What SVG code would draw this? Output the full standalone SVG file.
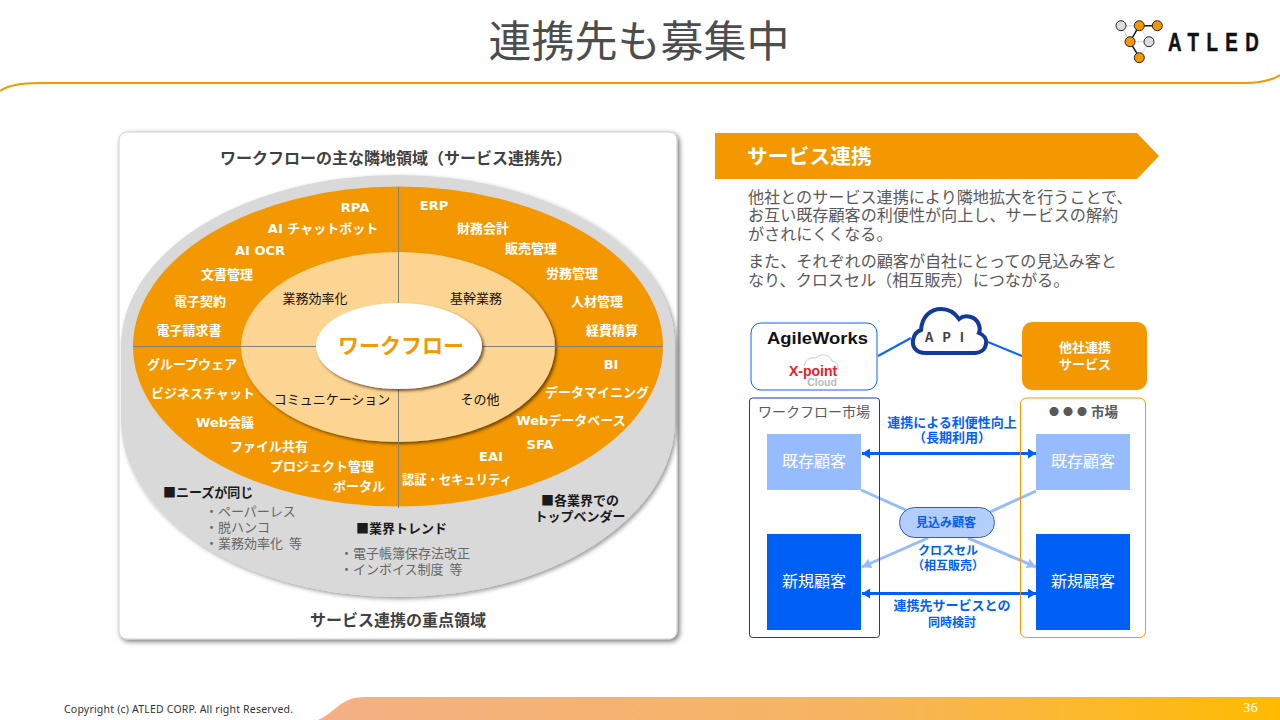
<svg xmlns="http://www.w3.org/2000/svg" width="1280" height="720" viewBox="0 0 1280 720">
<style>
text{font-family:"Noto Sans CJK JP","Noto Sans",sans-serif;dominant-baseline:central}
.c{text-anchor:middle}
.w{font-family:"DejaVu Sans","Noto Sans CJK JP",sans-serif;font-size:13px;font-weight:700;fill:#fff;text-anchor:middle}
.i{font-size:13px;fill:#111;text-anchor:middle}
.h{font-size:16px;font-weight:700;fill:#404040;text-anchor:middle}
.k{font-size:13px;font-weight:700;fill:#1a1a1a}
.g{font-size:13px;fill:#666}
.p{font-size:16.100px;fill:#595959}
.b{font-size:13px;font-weight:700;fill:#0060f5;text-anchor:middle}
.cust{font-size:16px;fill:#fff;text-anchor:middle}
.lk{stroke:#e3e3e3;stroke-width:1.500}
.ld{stroke:#1a1a1a;stroke-width:1.500}
.on{fill:#f39800;stroke:#222;stroke-width:1}
.off{fill:#dcdcdc;stroke:#222;stroke-width:1}
.ax{stroke:#7f7f7f;stroke-width:1;fill:none}
.big{stroke:#0060f5;stroke-width:3;fill:none;marker-start:url(#as);marker-end:url(#ae)}
.lt{stroke:#96bcff;stroke-width:3;fill:none}
</style>
<defs>
<linearGradient id="fg" x1="0" x2="1" y1="0" y2="0"><stop offset="0" stop-color="#f4b084"/><stop offset="0.55" stop-color="#f6b461"/><stop offset="1" stop-color="#ffbb00"/></linearGradient>
<filter id="card" x="-5%" y="-5%" width="110%" height="110%"><feDropShadow dx="2" dy="2" stdDeviation="2.500" flood-color="#000" flood-opacity="0.55"/></filter>
<filter id="sh1" x="-5%" y="-5%" width="110%" height="110%"><feDropShadow dx="2" dy="2" stdDeviation="2" flood-color="#000" flood-opacity="0.4"/></filter>
<filter id="sh2" x="-5%" y="-5%" width="110%" height="110%"><feDropShadow dx="2" dy="2" stdDeviation="1.500" flood-color="#4a2c00" flood-opacity="0.75"/></filter>
<marker id="ae" markerUnits="userSpaceOnUse" markerWidth="9" markerHeight="10" refX="8" refY="5" orient="auto"><path d="M0,0L8,5L0,10Z" fill="#0060f5"/></marker>
<marker id="as" markerUnits="userSpaceOnUse" markerWidth="9" markerHeight="10" refX="0" refY="5" orient="auto"><path d="M8,0L0,5L8,10Z" fill="#0060f5"/></marker>
<marker id="al" markerUnits="userSpaceOnUse" markerWidth="10" markerHeight="10" refX="9" refY="5" orient="auto"><path d="M0,0L9,5L0,10Z" fill="#96bcff"/></marker>
</defs>
<rect width="1280" height="720" fill="#fff"/>

<g id="header">
<path d="M0,91 C8,85 20,83 40,83 H1245 C1260,83 1272,80 1280,75" fill="none" stroke="#f39800" stroke-width="2"/>
<text class="c" x="639" y="38" font-size="43" fill="#4d4d4d">連携先も募集中</text>
</g>
<g id="logo">
<path class="lk" d="M1121,25.700H1139M1121,25.700L1130,41.700M1139.300,25.700L1149,41.700M1130,41.700H1149M1149,41.700L1139.300,57.700" fill="none"/>
<path class="ld" d="M1139.300,25.700H1157.300M1139.300,25.700L1130,41.700L1139.300,57.700" fill="none"/>
<circle class="off" cx="1121" cy="25.700" r="5"/><circle class="on" cx="1139.300" cy="25.700" r="5"/><circle class="on" cx="1157.300" cy="25.700" r="5"/>
<circle class="on" cx="1130" cy="41.700" r="5"/><circle class="off" cx="1149" cy="41.700" r="5"/><circle class="on" cx="1139.300" cy="57.700" r="5"/>
<text transform="translate(1168,43) scale(.75,1)" font-size="25" font-weight="700" fill="#111" letter-spacing="9.900" style="font-family:'Liberation Sans',sans-serif;stroke:#111;stroke-width:.5px">ATLED</text>
</g>

<g id="left-card">
<rect x="119" y="132" width="558" height="507" rx="8" fill="#fff" stroke="#d0d0d0" stroke-width="1" filter="url(#card)"/>
<text class="h" x="396" y="157">ワークフローの主な隣地領域（サービス連携先）</text>
<text class="h" x="398" y="619">サービス連携の重点領域</text>
</g>
<g id="rings">
<path d="M121,346 A277,171 0 0 1 675,346 V420 A277,177 0 0 1 121,420Z" fill="#d9d9d9" filter="url(#sh1)"/>
<ellipse cx="398" cy="346.500" rx="265" ry="160" fill="#f39800"/>
<ellipse cx="398" cy="347" rx="157" ry="95" fill="#fdd592" filter="url(#sh2)"/>
<path class="ax" d="M398.500,187V303M398.500,389V508M133,346.500H316M482,346.500H663"/>
<ellipse cx="399" cy="346" rx="83" ry="43" fill="#fff" filter="url(#sh2)"/>
</g>
<g id="node-workflow"><text class="c" x="401" y="344" font-size="21" font-weight="700" fill="#f39800">ワークフロー</text></g>
<g id="ring-labels">
<text class="w" x="355" y="207">RPA</text>
<text class="w" x="323" y="228">AI チャットボット</text>
<text class="w" x="260" y="250">AI OCR</text>
<text class="w" x="227" y="274">文書管理</text>
<text class="w" x="200" y="301">電子契約</text>
<text class="w" x="189" y="330">電子請求書</text>
<text class="w" x="192" y="364">グループウェア</text>
<text class="w" x="203" y="393">ビジネスチャット</text>
<text class="w" x="225" y="422">Web会議</text>
<text class="w" x="269" y="446">ファイル共有</text>
<text class="w" x="322" y="466">プロジェクト管理</text>
<text class="w" x="359" y="486">ポータル</text>
<text class="w" x="434" y="205">ERP</text>
<text class="w" x="483" y="228">財務会計</text>
<text class="w" x="531" y="248">販売管理</text>
<text class="w" x="572" y="273">労務管理</text>
<text class="w" x="597" y="301">人材管理</text>
<text class="w" x="612" y="330">経費精算</text>
<text class="w" x="611" y="364">BI</text>
<text class="w" x="597" y="392">データマイニング</text>
<text class="w" x="571" y="420">Webデータベース</text>
<text class="w" x="540" y="444">SFA</text>
<text class="w" x="491" y="456">EAI</text>
<text class="w" x="457" y="479" textLength="110" lengthAdjust="spacingAndGlyphs">認証・セキュリティ</text>
<text class="i" x="315" y="297">業務効率化</text>
<text class="i" x="476" y="297">基幹業務</text>
<text class="i" x="332" y="398">コミュニケーション</text>
<text class="i" x="480" y="398">その他</text>
</g>
<g id="ring-notes">
<text class="k" x="163" y="491">■ニーズが同じ</text>
<text class="g" x="205" y="510">・ペーパーレス</text>
<text class="g" x="205" y="526">・脱ハンコ</text>
<text class="g" x="205" y="542">・業務効率化 <tspan dx="3">等</tspan></text>
<text class="k" x="356" y="527">■業界トレンド</text>
<text class="g" x="340" y="552">・電子帳簿保存法改正</text>
<text class="g" x="340" y="568">・インボイス制度 <tspan dx="3">等</tspan></text>
<text class="k c" x="580" y="499">■各業界での</text>
<text class="k c" x="580" y="515">トップベンダー</text>
</g>

<g id="banner">
<path d="M715,133H1137L1159,156L1137,179H715Z" fill="#f39800"/>
<text x="747" y="155" font-size="20.800" font-weight="700" fill="#fff">サービス連携</text>
</g>
<g id="description">
<text class="p" x="748" y="196">他社とのサービス連携により隣地拡大を行うことで、</text>
<text class="p" x="748" y="214">お互い既存顧客の利便性が向上し、サービスの解約</text>
<text class="p" x="748" y="233">がされにくくなる。</text>
<text class="p" x="748" y="260">また、それぞれの顧客が自社にとっての見込み客と</text>
<text class="p" x="748" y="279">なり、クロスセル（相互販売）につながる。</text>
</g>

<g id="connectors">
<path d="M878,356L911,338M988,342L1022,356" stroke="#0a64f5" stroke-width="2" fill="none"/>
<path class="big" d="M862,453.500H1036"/>
<path class="big" d="M862,593.500H1036"/>
<path class="lt" d="M861,490L906,510M1036,491L990,512"/>
<path class="lt" d="M928,538L862,567" marker-end="url(#al)"/>
<path class="lt" d="M968,538L1036,567" marker-end="url(#al)"/>
</g>
<g id="node-agileworks">
<rect x="751" y="323" width="126" height="67" rx="10" fill="#fff" stroke="#0a64f5" stroke-width="1"/>
<text x="767" y="338" font-size="17" font-weight="700" fill="#111" textLength="101" lengthAdjust="spacingAndGlyphs" style="font-family:'Liberation Sans',sans-serif">AgileWorks</text>
<path d="M804,366 C806,358 812,357 816,358 C820,353 830,354 832,361 C837,362 839,366 838,370" fill="none" stroke="#c8ccd0" stroke-width="1"/>
<text x="813" y="371" class="c" font-size="14" font-weight="700" fill="#e8202c" style="font-family:'Liberation Sans',sans-serif">X-point</text>
<text x="822" y="382" class="c" font-size="10.500" font-weight="700" fill="#b4bcc4" style="font-family:'Liberation Sans',sans-serif">Cloud</text>
</g>
<g id="node-api">
<path d="M926,353 C916,353 912,347 913,340 C914,334 918,331 921,330 C922,316 931,309 941,309 C949,309 955,313 959,319 C965,314 976,316 979,325 C980,328 980,331 979,333 C984,335 987,339 986,344 C985,350 980,353 975,353Z" fill="#fff" stroke="#123a9c" stroke-width="4"/>
<text class="c" x="946" y="336" font-size="13" font-weight="700" fill="#404040" letter-spacing="3">A P I</text>
</g>
<g id="node-partner">
<rect x="1022" y="322" width="125" height="68" rx="10" fill="#f39800"/>
<text class="c" x="1085" y="346" font-size="13" font-weight="700" fill="#fff">他社連携</text>
<text class="c" x="1085" y="363" font-size="13" font-weight="700" fill="#fff">サービス</text>
</g>
<g id="market-workflow">
<rect x="749.500" y="398" width="130" height="239.500" rx="3" fill="none" stroke="#0b3fa8" stroke-width="1"/>
<text class="c" x="814" y="411" font-size="14" fill="#595959">ワークフロー市場</text>
</g>
<g id="market-other">
<rect x="1020.500" y="398" width="125" height="239.500" rx="6" fill="none" stroke="#f39800" stroke-width="1"/>
<text x="1049" y="411" font-weight="700" fill="#595959"><tspan font-size="10" letter-spacing="4">●●●</tspan><tspan font-size="13.500">市場</tspan></text>
</g>
<g id="node-existing-left"><rect x="767" y="434" width="94" height="56" fill="#96bcff"/><text class="cust" x="814" y="460">既存顧客</text></g>
<g id="node-new-left"><rect x="767" y="534" width="94" height="96" fill="#0060f5"/><text class="cust" x="814" y="580">新規顧客</text></g>
<g id="node-existing-right"><rect x="1036" y="434" width="94" height="56" fill="#96bcff"/><text class="cust" x="1083" y="460">既存顧客</text></g>
<g id="node-new-right"><rect x="1036" y="534" width="94" height="96" fill="#0060f5"/><text class="cust" x="1083" y="580">新規顧客</text></g>
<g id="node-prospect">
<rect x="899.500" y="507.500" width="95" height="30" rx="15" fill="#b3cefa" stroke="#2f5fb5" stroke-width="1"/>
<text class="c" x="946" y="521" font-size="12" font-weight="700" fill="#0060f5">見込み顧客</text>
</g>
<g id="connector-labels">
<text class="b" x="952" y="421">連携による利便性向上</text>
<text class="b" x="952" y="436">（長期利用）</text>
<text class="b" x="948" y="549" style="font-size:12px">クロスセル</text>
<text class="b" x="948" y="564" style="font-size:12px">（相互販売）</text>
<text class="b" x="952" y="604">連携先サービスとの</text>
<text class="b" x="952" y="621" style="font-size:12px">同時検討</text>
</g>
<g id="footer">
<path d="M318,720 C335,713 340,697 365,697H1280V720Z" fill="url(#fg)"/>
<text x="64" y="709" font-size="10.500" fill="#333" textLength="229" style="font-family:'Noto Sans',sans-serif">Copyright (c) ATLED CORP. All right Reserved.</text>
<text x="1243" y="707" font-size="13" fill="#fff" style="font-family:'Noto Sans',sans-serif">36</text>
</g>
</svg>
